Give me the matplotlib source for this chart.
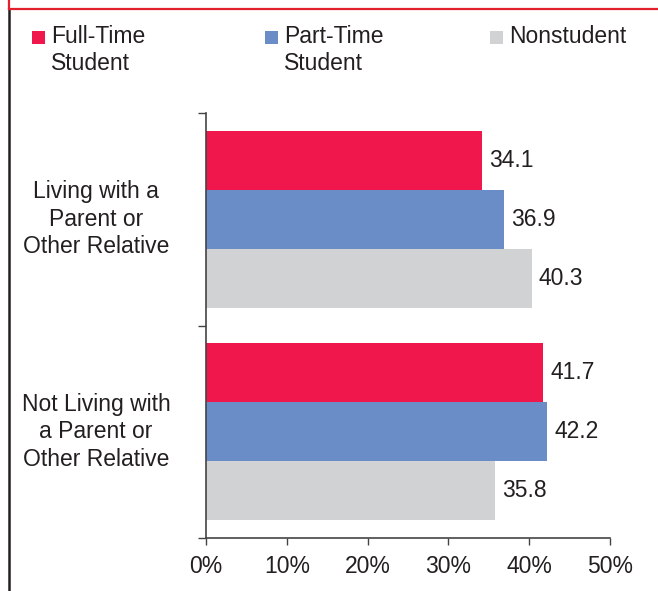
import matplotlib
matplotlib.use('Agg')
import matplotlib.pyplot as plt
from matplotlib.lines import Line2D
from matplotlib.patches import Rectangle
import numpy as np

plt.rcParams['font.family'] = ['Liberation Sans', 'DejaVu Sans']

# data (percent)
categories = ['Living with a\nParent or\nOther Relative',
              'Not Living with\na Parent or\nOther Relative']
series = ['Full-Time\nStudent', 'Part-Time\nStudent', 'Nonstudent']
full_time = [34.1, 41.7]
part_time = [36.9, 42.2]
nonstudent = [40.3, 35.8]
xticks = [0, 10, 20, 30, 40, 50]

colors = ['#EF174B', '#6A8DC7', '#D1D2D4']
txt = '#231F20'
W, H = 658, 591
fs = 16.5
ls = 1.24

fig = plt.figure(figsize=(W / 100, H / 100), dpi=100)
ax = fig.add_axes([206 / W, (H - 538) / H, 404 / W, 425 / H])

centers = np.arange(len(categories)) + 0.5
bh = 0.278
offsets = [-bh, 0, bh]
for vals, off, c in zip([full_time, part_time, nonstudent], offsets, colors):
    ax.barh(centers + off, vals, height=bh, color=c, edgecolor='none')
    for y, v in zip(centers + off, vals):
        ax.text(v + 0.9, y, f'{v:.1f}', ha='left', va='center',
                fontsize=fs, color=txt)

ax.set_xlim(0, 50)
ax.set_ylim(len(categories), 0)
ax.set_xticks(xticks)
ax.set_xticklabels([f'{t}%' for t in xticks], fontsize=fs, color=txt)
ax.set_yticks(np.arange(len(categories) + 1))
ax.set_yticklabels([])
ax.tick_params(axis='x', direction='out', length=5, width=1, color='#444444', pad=7)
ax.tick_params(axis='y', direction='out', length=6, width=1, color='#444444')

for s in ['top', 'right']:
    ax.spines[s].set_visible(False)
for s in ['left', 'bottom']:
    ax.spines[s].set_color('#444444')
    ax.spines[s].set_linewidth(1.2)

for y, lab in zip(centers, categories):
    ax.text(-0.272, y, lab, transform=ax.get_yaxis_transform(), ha='center',
            va='center', multialignment='center', fontsize=fs, color=txt,
            linespacing=ls)

# legend laid out by hand
leg_x = [32, 265, 490]
for x0, lab, c in zip(leg_x, series, colors):
    fig.patches.append(Rectangle((x0 / W, (H - 44) / H), 13 / W, 13 / H,
                                 transform=fig.transFigure, color=c, lw=0))
    fig.text((x0 + 19) / W, (H - 25) / H, lab, ha='left', va='top',
             fontsize=fs, color=txt, linespacing=ls)

# frame lines
fig.add_artist(Line2D([9 / W, 9 / W], [0, (H - 9) / H], color='#231F20', lw=1.8,
                      transform=fig.transFigure))
fig.add_artist(Line2D([9 / W, 1], [(H - 9) / H, (H - 9) / H], color='#E31E2D', lw=1.6,
                      transform=fig.transFigure))
fig.add_artist(Line2D([9 / W, 9 / W], [(H - 9) / H, 1], color='#E31E2D', lw=1.6,
                      transform=fig.transFigure))

fig.savefig('out.png', dpi=100)
